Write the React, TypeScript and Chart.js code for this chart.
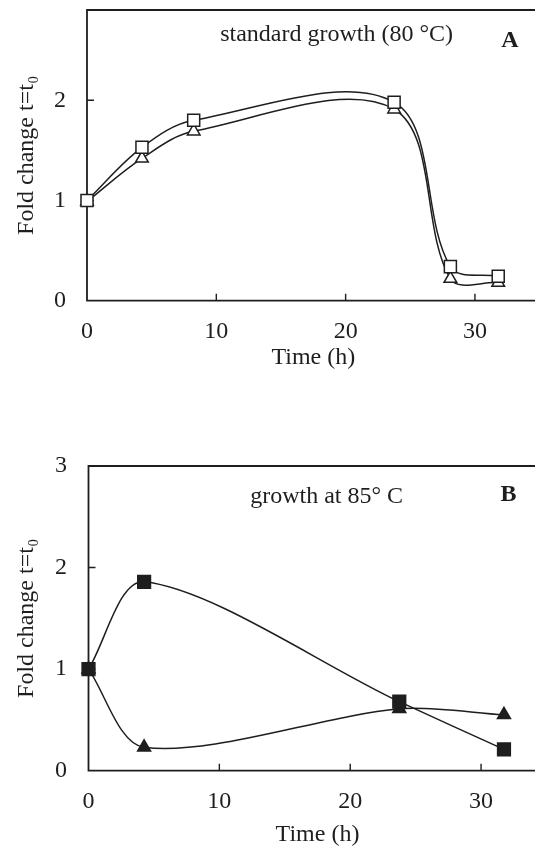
import React, { useEffect, useRef } from "react";
import { Chart, registerables } from "chart.js";

Chart.register(...registerables);

// ---------- Data ----------
const timeA = [0, 4.25, 8.25, 23.75, 28.1, 31.8];
const squaresA = [1.0, 1.53, 1.8, 1.98, 0.34, 0.245];
const trianglesA = [0.99, 1.42, 1.69, 1.91, 0.22, 0.18];

const timeB = [0, 4.25, 23.75, 31.75];
const squaresB = [1.0, 1.86, 0.68, 0.21];
const trianglesB = [1.0, 0.23, 0.61, 0.55];

const xTickValues = [0, 10, 20, 30];
const yTickValuesA = [0, 1, 2];
const yTickValuesB = [0, 1, 2, 3];

const titleA = "standard growth (80 °C)";
const titleB = "growth at 85° C";
const panelA = "A";
const panelB = "B";
const xTitle = "Time (h)";
const yTitle = "Fold change t=t₀";

const FONT = '"Liberation Serif", "Times New Roman", serif';
const INK = "#1e1e1e";
const FS = 24;

type PanelCfg = {
  width: number;
  height: number;
  yWidth: number;
  padTop: number;
  padRight: number;
  xHeight: number;
  yMax: number;
  yTicks: number[];
  xLabelPad: number;
  xTitlePadBottom: number;
  yLabelPad: number;
  title: string;
  titlePos: [number, number];
  panel: string;
  panelPos: [number, number];
  filled: boolean;
  time: number[];
  squares: number[];
  triangles: number[];
  sqR: number;
  triR: number;
  tension: number;
};

const framePlugin = {
  id: "frameAndNotes",
  beforeDatasetsDraw(chart: any, _args: any, opts: any) {
    const { ctx, chartArea } = chart;
    const { left, top, right, bottom } = chartArea;
    const xs = chart.scales.x;
    const ys = chart.scales.y;
    ctx.save();
    ctx.strokeStyle = INK;
    ctx.lineWidth = 1.8;
    ctx.beginPath();
    ctx.rect(left, top, right - left, bottom - top);
    ctx.stroke();
    ctx.lineWidth = 1.4;
    ctx.beginPath();
    for (const v of xTickValues) {
      if (v <= 0) continue;
      const px = xs.getPixelForValue(v);
      ctx.moveTo(px, bottom);
      ctx.lineTo(px, bottom - 7);
    }
    for (const v of opts.yTicks as number[]) {
      if (v <= 0 || v >= ys.max) continue;
      const py = ys.getPixelForValue(v);
      ctx.moveTo(left, py);
      ctx.lineTo(left + 7, py);
    }
    ctx.stroke();
    ctx.fillStyle = INK;
    ctx.textAlign = "center";
    ctx.textBaseline = "middle";
    ctx.font = `${FS}px ${FONT}`;
    ctx.fillText(opts.title, xs.getPixelForValue(opts.titlePos[0]), ys.getPixelForValue(opts.titlePos[1]));
    ctx.font = `bold ${FS}px ${FONT}`;
    ctx.fillText(opts.panel, xs.getPixelForValue(opts.panelPos[0]), ys.getPixelForValue(opts.panelPos[1]));
    ctx.restore();
  },
};

function Panel({ cfg, top }: { cfg: PanelCfg; top: number }) {
  const ref = useRef<HTMLCanvasElement | null>(null);
  useEffect(() => {
    if (!ref.current) return;
    const fill = cfg.filled ? INK : "#ffffff";
    const mk = (label: string, ys: number[], style: string, r: number) =>
      ({
        label,
        data: cfg.time.map((t, i) => ({ x: t, y: ys[i] })),
        borderColor: INK,
        borderWidth: 1.5,
        backgroundColor: fill,
        pointBackgroundColor: fill,
        pointBorderColor: INK,
        pointBorderWidth: 1.5,
        pointStyle: style,
        pointRadius: r,
        tension: cfg.tension,
        clip: false,
      } as any);
    const chart = new Chart(ref.current, {
      type: "line",
      data: {
        datasets: [
          mk("squares", cfg.squares, "rect", cfg.sqR),
          mk("triangles", cfg.triangles, "triangle", cfg.triR),
        ],
      },
      options: {
        animation: false,
        responsive: false,
        maintainAspectRatio: false,
        layout: { padding: { top: cfg.padTop, right: cfg.padRight, left: 0, bottom: 0 } },
        plugins: {
          legend: { display: false },
          tooltip: { enabled: false },
          frameAndNotes: {
            yTicks: cfg.yTicks,
            title: cfg.title,
            titlePos: cfg.titlePos,
            panel: cfg.panel,
            panelPos: cfg.panelPos,
          },
        } as any,
        scales: {
          x: {
            type: "linear",
            min: 0,
            max: 35,
            grid: { display: false, drawTicks: false },
            border: { display: false },
            afterBuildTicks: (s: any) => {
              s.ticks = xTickValues.map((v) => ({ value: v }));
            },
            afterFit: (s: any) => {
              s.height = cfg.xHeight;
              s.paddingLeft = 0;
              s.paddingRight = 0;
            },
            ticks: {
              padding: cfg.xLabelPad,
              color: INK,
              font: { family: FONT, size: FS },
              maxRotation: 0,
            },
            title: {
              display: true,
              text: xTitle,
              color: INK,
              font: { family: FONT, size: FS },
              padding: { top: 0, bottom: cfg.xTitlePadBottom },
            },
          },
          y: {
            type: "linear",
            min: 0,
            max: cfg.yMax,
            grid: { display: false, drawTicks: false },
            border: { display: false },
            afterBuildTicks: (s: any) => {
              s.ticks = cfg.yTicks.map((v) => ({ value: v }));
            },
            afterFit: (s: any) => {
              s.width = cfg.yWidth;
              s.paddingTop = 0;
              s.paddingBottom = 0;
            },
            ticks: {
              padding: cfg.yLabelPad,
              color: INK,
              font: { family: FONT, size: FS },
            },
            title: {
              display: true,
              text: yTitle,
              color: INK,
              font: { family: FONT, size: FS },
              padding: { top: 12, bottom: 0 },
            },
          },
        },
      },
      plugins: [framePlugin],
    });
    return () => chart.destroy();
  }, [cfg]);
  return (
    <canvas
      ref={ref}
      width={cfg.width}
      height={cfg.height}
      style={{ position: "absolute", left: 0, top, width: cfg.width, height: cfg.height }}
    />
  );
}

const cfgA: PanelCfg = {
  width: 560,
  height: 385,
  yWidth: 87,
  padTop: 9.3,
  padRight: 20.4,
  xHeight: 84.3,
  yMax: 2.9,
  yTicks: yTickValuesA,
  xLabelPad: 16.5,
  xTitlePadBottom: 12.6,
  yLabelPad: 21,
  title: titleA,
  titlePos: [19.3, 2.65],
  panel: panelA,
  panelPos: [32.7, 2.59],
  filled: false,
  time: timeA,
  squares: squaresA,
  triangles: trianglesA,
  sqR: 8.5,
  triR: 7.3,
  tension: 0.35,
};

const cfgB: PanelCfg = {
  width: 560,
  height: 429,
  yWidth: 88.5,
  padTop: 46,
  padRight: 13.5,
  xHeight: 78.3,
  yMax: 3,
  yTicks: yTickValuesB,
  xLabelPad: 16.6,
  xTitlePadBottom: 0,
  yLabelPad: 21.5,
  title: titleB,
  titlePos: [18.2, 2.7],
  panel: panelB,
  panelPos: [32.1, 2.72],
  filled: true,
  time: timeB,
  squares: squaresB,
  triangles: trianglesB,
  sqR: 9,
  triR: 7.5,
  tension: 0.3,
};

export default function App() {
  return (
    <div
      style={{
        position: "fixed",
        left: 0,
        top: 0,
        width: 535,
        height: 849,
        overflow: "hidden",
        background: "#ffffff",
      }}
    >
      <Panel cfg={cfgA} top={0} />
      <Panel cfg={cfgB} top={420} />
    </div>
  );
}
